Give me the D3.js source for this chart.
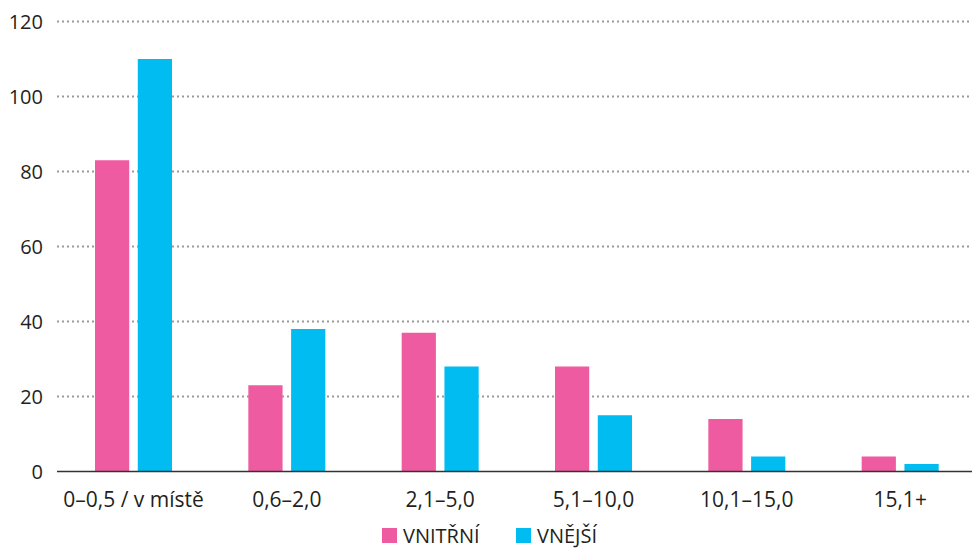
<!DOCTYPE html>
<html lang="cs">
<head>
  <meta charset="utf-8">
  <title>Vzdálenost</title>
  <script src="https://d3js.org/d3.v7.min.js"></script>
  <style>
    body { margin: 0; background: #fff; }
    text { font-family: "Open Sans", sans-serif; fill: #231f20; }
    .grid line { stroke: #9a9a9a; stroke-width: 2; stroke-dasharray: 2,3; }
  </style>
</head>
<body>
<script>
  // data
  const categories = ["0–0,5 / v místě", "0,6–2,0", "2,1–5,0", "5,1–10,0", "10,1–15,0", "15,1+"];
  const seriesNames = ["VNITŘNÍ", "VNĚJŠÍ"];
  const vnitrni = [83, 23, 37, 28, 14, 4];
  const vnejsi = [110, 38, 28, 15, 4, 2];
  const yTicks = [0, 20, 40, 60, 80, 100, 120];
  const colors = ["#ef5ba1", "#00bcf1"];

  const width = 972, height = 549;
  const rows = categories.map((c, i) => ({ cat: c, values: [vnitrni[i], vnejsi[i]] }));

  const svg = d3.select("body").append("svg")
    .attr("width", width)
    .attr("height", height);

  const x0 = d3.scaleBand()
    .domain(categories)
    .range([57, 977])
    .padding(0);

  const x1 = d3.scaleBand()
    .domain(seriesNames)
    .range([38, 115])
    .paddingInner(0.2);

  const y = d3.scaleLinear()
    .domain([0, 120])
    .range([471.5, 21.5]);

  // dotted gridlines
  svg.append("g")
    .attr("class", "grid")
    .selectAll("line")
    .data(yTicks.filter(d => d > 0))
    .enter().append("line")
    .attr("x1", 57)
    .attr("x2", width)
    .attr("y1", d => y(d))
    .attr("y2", d => y(d));

  // y labels
  svg.append("g")
    .selectAll("text")
    .data(yTicks)
    .enter().append("text")
    .attr("x", 43)
    .attr("y", d => y(d))
    .attr("dy", "0.36em")
    .attr("text-anchor", "end")
    .style("font-size", "20px")
    .text(d => d);

  // bars
  const groups = svg.append("g")
    .selectAll("g")
    .data(rows)
    .enter().append("g")
    .attr("transform", d => "translate(" + x0(d.cat) + ",0)");

  groups.selectAll("rect")
    .data(d => d.values.map((v, i) => ({ key: seriesNames[i], value: v, i: i })))
    .enter().append("rect")
    .attr("x", d => x1(d.key))
    .attr("width", x1.bandwidth())
    .attr("y", d => y(d.value))
    .attr("height", d => y(0) - y(d.value))
    .attr("fill", d => colors[d.i]);

  // baseline
  svg.append("line")
    .attr("x1", 57)
    .attr("x2", width)
    .attr("y1", y(0))
    .attr("y2", y(0))
    .attr("stroke", "#333")
    .attr("stroke-width", 1.5);

  // category labels
  svg.append("g")
    .selectAll("text")
    .data(categories)
    .enter().append("text")
    .attr("x", d => x0(d) + 76.5)
    .attr("y", 507)
    .attr("text-anchor", "middle")
    .style("font-size", "21px")
    .text(d => d);

  // legend (moved up a little so the text is not cut off at the bottom)
  const legendX = [382, 516];
  const legend = svg.append("g")
    .selectAll("g")
    .data(seriesNames)
    .enter().append("g")
    .attr("transform", (d, i) => "translate(" + legendX[i] + ",528)");

  legend.append("rect")
    .attr("width", 15)
    .attr("height", 15)
    .attr("fill", (d, i) => colors[i]);

  legend.append("text")
    .attr("x", 21)
    .attr("y", 15)
    .style("font-size", "20px")
    .text(d => d);
</script>
</body>
</html>
